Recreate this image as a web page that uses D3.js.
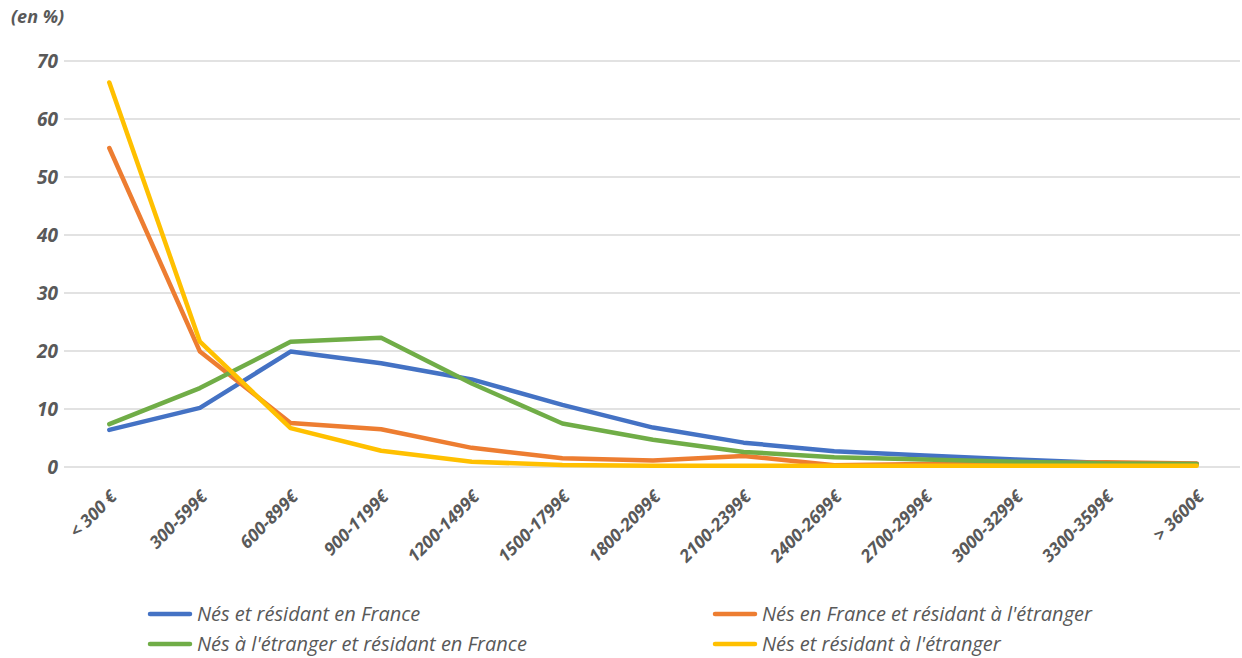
<!DOCTYPE html>
<html>
<head>
<meta charset="utf-8">
<script src="https://cdn.jsdelivr.net/npm/d3@7"></script>
<style>
  body { margin: 0; background: #fff; }
  text { font-family: "Open Sans", "Liberation Sans", sans-serif; fill: #595959; }
</style>
</head>
<body>
<div id="chart"></div>
<script>
// categories (income brackets)
var categories = ["< 300 €", "300-599€", "600-899€", "900-1199€", "1200-1499€", "1500-1799€",
    "1800-2099€", "2100-2399€", "2400-2699€", "2700-2999€", "3000-3299€", "3300-3599€", "> 3600€"];

var seriesNames = ["Nés et résidant en France", "Nés en France et résidant à l'étranger",
    "Nés à l'étranger et résidant en France", "Nés et résidant à l'étranger"];

var nesResFrance = [6.4, 10.2, 19.9, 17.9, 15.1, 10.7, 6.8, 4.2, 2.7, 2.0, 1.3, 0.7, 0.5];
var nesFranceResEtr = [55.0, 19.9, 7.6, 6.5, 3.3, 1.5, 1.1, 1.9, 0.3, 0.5, 0.6, 0.8, 0.6];
var nesEtrResFrance = [7.4, 13.6, 21.6, 22.3, 14.4, 7.5, 4.7, 2.6, 1.7, 1.3, 0.9, 0.6, 0.5];
var nesResEtr = [66.3, 21.6, 6.7, 2.8, 0.9, 0.35, 0.2, 0.2, 0.2, 0.2, 0.2, 0.2, 0.2];

var yTicks = [0, 10, 20, 30, 40, 50, 60, 70];
var colors = ["#4472C4", "#ED7D31", "#70AD47", "#FFC000"];

var width = 1242, height = 658;
var margin = { top: 61, right: 0, bottom: 191, left: 64 };

var svg = d3.select("#chart").append("svg")
    .attr("width", width)
    .attr("height", height);

var x = d3.scalePoint()
    .domain(categories)
    .range([margin.left, width - margin.right])
    .padding(0.5);

var y = d3.scaleLinear()
    .domain([0, 70])
    .range([height - margin.bottom, margin.top]);

// gridlines
svg.append("g")
    .selectAll("line")
    .data(yTicks)
    .enter().append("line")
        .attr("x1", margin.left)
        .attr("x2", width - 2)
        .attr("y1", function(d) { return y(d); })
        .attr("y2", function(d) { return y(d); })
        .attr("stroke", "#D9D9D9")
        .attr("stroke-width", 1.5);

// y axis labels
var yAxis = svg.append("g")
    .attr("transform", "translate(" + (margin.left - 6) + ",0)")
    .call(d3.axisLeft(y).tickValues(yTicks).tickSize(0).tickPadding(0));
yAxis.select(".domain").remove();
yAxis.selectAll("text")
    .attr("font-size", 19)
    .attr("font-weight", "bold")
    .attr("font-style", "italic")
    .attr("font-family", "'Open Sans', sans-serif")
    .attr("fill", "#595959")
    .attr("dy", "0.35em");

svg.append("text")
    .attr("x", 11)
    .attr("y", 23)
    .attr("font-size", 18)
    .attr("font-weight", "bold")
    .attr("font-style", "italic")
    .text("(en %)");

// x axis labels, rotated
var xAxis = svg.append("g")
    .attr("transform", "translate(0," + y(0) + ")")
    .call(d3.axisBottom(x).tickSize(0).tickPadding(0));
xAxis.select(".domain").remove();
xAxis.selectAll("text")
    .attr("font-size", 17.5)
    .attr("font-weight", "bold")
    .attr("font-style", "italic")
    .attr("font-family", "'Open Sans', sans-serif")
    .attr("fill", "#595959")
    .attr("text-anchor", "end")
    .attr("y", 0)
    .attr("dy", 0)
    .attr("transform", "translate(8,31) rotate(-45)");

// lines
var data = [nesResFrance, nesFranceResEtr, nesEtrResFrance, nesResEtr];
var line = d3.line()
    .x(function(d, i) { return x(categories[i]); })
    .y(function(d) { return y(d); });

svg.selectAll(".curve")
    .data(data)
    .enter().append("path")
        .attr("class", "curve")
        .attr("fill", "none")
        .attr("stroke", function(d, i) { return colors[i]; })
        .attr("stroke-width", 4.5)
        .attr("stroke-linejoin", "round")
        .attr("stroke-linecap", "round")
        .attr("d", line);

// legend
var legendPos = [[150, 614], [715, 614], [150, 644], [715, 644]];
var legend = svg.selectAll(".legend")
    .data(seriesNames)
    .enter().append("g")
        .attr("class", "legend")
        .attr("transform", function(d, i) { return "translate(" + legendPos[i][0] + "," + legendPos[i][1] + ")"; });

legend.append("line")
    .attr("x1", 0)
    .attr("x2", 40)
    .attr("stroke", function(d, i) { return colors[i]; })
    .attr("stroke-width", 4.5)
    .attr("stroke-linecap", "round");

legend.append("text")
    .attr("x", 47)
    .attr("dy", "0.35em")
    .attr("font-size", 20)
    .attr("font-style", "italic")
    .text(function(d) { return d; });
</script>
</body>
</html>
